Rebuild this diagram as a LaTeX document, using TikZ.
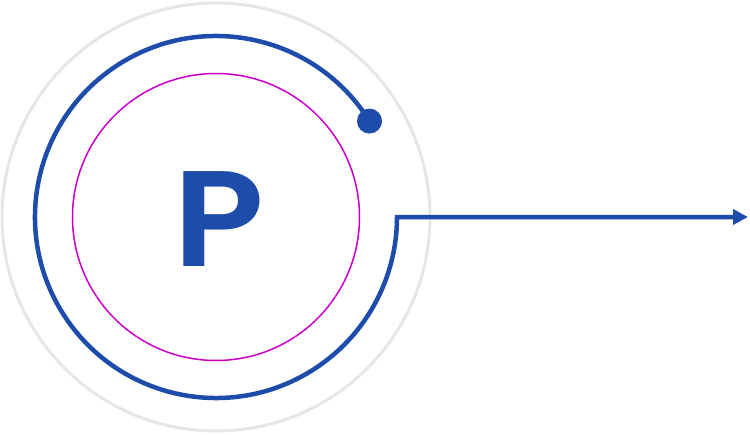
\documentclass[tikz,border=0pt]{standalone}
\usepackage{fontspec}
\usepackage{tikz}
\usetikzlibrary{calc,positioning,arrows.meta}
\definecolor{pblue}{RGB}{30,76,170}
\definecolor{pmagenta}{RGB}{204,0,204}
\definecolor{pgray}{RGB}{230,230,230}
\newfontfamily\pfont{Poppins SemiBold}

\begin{document}
\begin{tikzpicture}[x=1pt,y=1pt,
  ring/.style={draw=pblue,line width=4.5pt},
  dot/.style={circle,fill=pblue,minimum size=25pt,inner sep=0pt}]

\useasboundingbox (-216,-217) rectangle (534,217);

\coordinate (c) at (0,0);

% outer and inner rings
\draw[pgray, line width=3pt] (c) circle (214);
\draw[pmagenta, line width=1.5pt] (c) circle (143.5);

\node[text=pblue, inner sep=0pt, font=\pfont\fontsize{136}{136}\selectfont] (p) at (3,-2) {\scalebox{1.1}[1]{P}};

% blue arc from the dot round to the arrow
\node[dot] (start) at ($(c)+(32:181)$) {};
\coordinate (tip) at (532,0);
\draw[ring, -{Triangle[length=15pt,width=15pt]}] (start.center) arc[start angle=32, end angle=360, radius=181] -- (tip);

\end{tikzpicture}
\end{document}
